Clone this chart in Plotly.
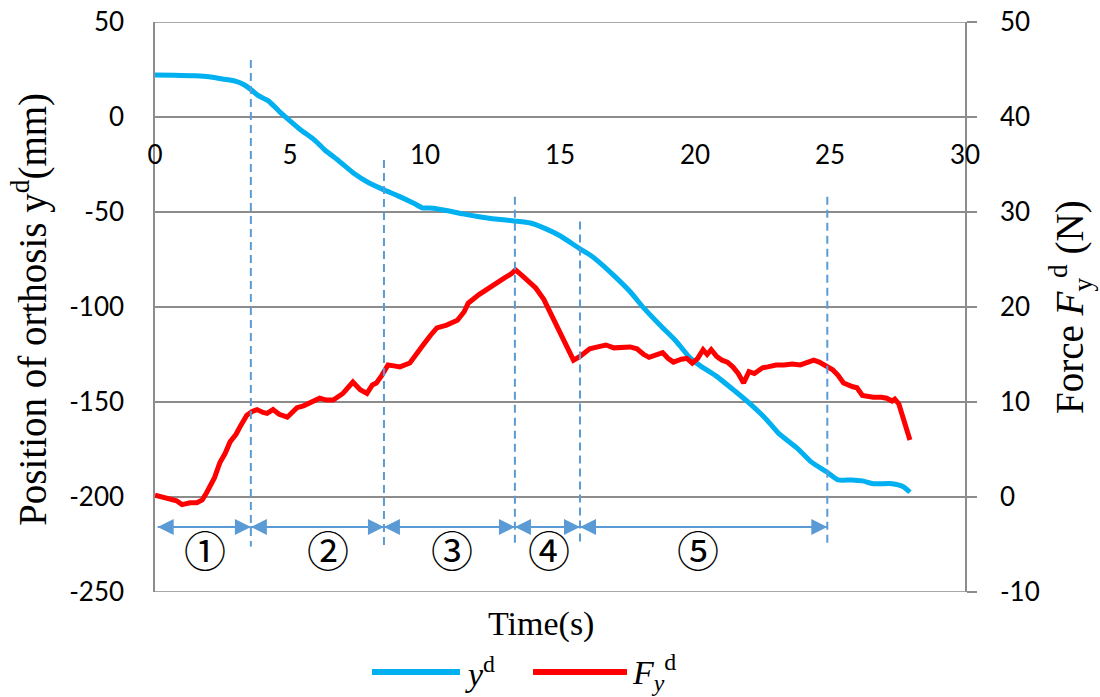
import plotly.graph_objects as go

# Orthosis position y^d (mm) over time
t_pos = [0.0, 0.7, 1.5, 2.0, 2.5, 3.0, 3.3, 3.55, 3.8, 4.2, 4.6, 5.0, 5.4, 5.9, 6.3,
         6.8, 7.4, 7.9, 8.5, 9.0, 9.6, 9.9, 10.3, 10.9, 11.4, 12.0, 12.5, 13.3, 13.9,
         14.5, 15.0, 15.7, 16.1, 16.5, 17.0, 17.6, 18.1, 18.7, 19.3, 19.8, 20.2, 20.8,
         21.5, 22.0, 22.6, 23.1, 23.8, 24.3, 24.9, 25.3, 25.8, 26.2, 26.6, 27.3, 27.7,
         27.96]
pos = [22.1, 22.0, 21.7, 21.2, 20.0, 18.8, 17.0, 14.5, 11.5, 8.5, 3.0, -2.0, -6.8,
       -12.0, -17.5, -23.0, -30.0, -34.5, -38.5, -41.5, -45.5, -47.8, -48.0, -49.5,
       -51.0, -52.5, -53.5, -54.7, -55.8, -59.0, -62.5, -69.0, -72.5, -77.0, -83.5,
       -92.0, -100.5, -109.5, -118.0, -126.5, -131.0, -136.5, -144.5, -150.5, -158.5,
       -166.5, -174.5, -181.5, -187.0, -191.0, -191.0, -191.5, -193.0, -193.0, -194.5,
       -197.5]

# Force F_y^d (N) over time
t_force = [0.0, 0.3, 0.56, 0.8, 1.0, 1.3, 1.55, 1.75, 1.9, 2.2, 2.4, 2.6, 2.78, 3.0,
           3.15, 3.4, 3.6, 3.78, 4.0, 4.15, 4.37, 4.6, 4.9, 5.1, 5.26, 5.5, 5.74, 6.1,
           6.35, 6.6, 6.96, 7.33, 7.6, 7.85, 8.05, 8.2, 8.4, 8.63, 8.85, 9.07, 9.44,
           9.7, 9.93, 10.2, 10.44, 10.8, 11.2, 11.45, 11.6, 12.0, 12.4, 12.7, 12.96,
           13.2, 13.35, 13.6, 13.85, 14.1, 14.4, 14.7, 15.0, 15.3, 15.5, 15.74, 16.1,
           16.4, 16.7, 17.0, 17.3, 17.6, 17.85, 18.1, 18.3, 18.6, 18.8, 19.0, 19.2,
           19.5, 19.7, 19.9, 20.1, 20.3, 20.45, 20.6, 20.8, 21.0, 21.2, 21.4, 21.6,
           21.8, 21.9, 22.0, 22.2, 22.5, 22.7, 23.0, 23.3, 23.6, 23.9, 24.2, 24.4,
           24.6, 24.9, 25.1, 25.3, 25.5, 25.85, 26.0, 26.2, 26.6, 26.9, 27.1, 27.3,
           27.4, 27.55, 27.65, 27.75, 27.85, 27.96]
force = [0.2, 0.0, -0.2, -0.4, -0.8, -0.6, -0.6, -0.3, 0.4, 2.0, 3.6, 4.6, 5.8, 6.6,
         7.4, 8.6, 9.0, 9.2, 8.9, 8.8, 9.2, 8.7, 8.4, 9.0, 9.4, 9.6, 9.9, 10.4, 10.2,
         10.2, 10.9, 12.1, 11.3, 10.9, 11.8, 12.0, 12.8, 13.9, 13.8, 13.7, 14.1, 15.0,
         16.0, 17.0, 17.8, 18.1, 18.6, 19.5, 20.4, 21.3, 22.1, 22.6, 23.1, 23.5, 23.9,
         23.3, 22.6, 22.0, 20.8, 19.0, 17.3, 15.5, 14.4, 14.8, 15.6, 15.8, 16.0, 15.7,
         15.8, 15.8, 15.6, 15.0, 14.7, 15.0, 15.2, 14.6, 14.2, 14.5, 14.6, 14.1, 14.6,
         15.5, 15.0, 15.5, 14.8, 14.4, 14.2, 13.7, 13.0, 12.0, 12.6, 13.2, 13.0, 13.6,
         13.7, 13.9, 13.9, 14.0, 13.9, 14.2, 14.4, 14.2, 13.7, 13.4, 12.8, 12.0, 11.6,
         11.5, 10.7, 10.5, 10.5, 10.4, 10.1, 10.3, 9.8, 8.8, 7.8, 7.2, 6.0]

# Phase boundaries (s), top of each dashed marker (mm), phase labels
phase_t = [3.55, 8.48, 13.33, 15.74, 24.9]
phase_top = [30, -22.6, -42, -55, -42]
phase_start = 0.1
phase_labels = ["①", "②", "③", "④", "⑤"]
phase_label_t = [1.85, 6.4, 11.0, 14.6, 20.1]
phase_arrow_y = -215.8
phase_label_y = -227
phase_line_bottom = -226

# Axis ticks
x_ticks = [0, 5, 10, 15, 20, 25, 30]
y_ticks = [-250, -200, -150, -100, -50, 0, 50]
y2_ticks = [-10, 0, 10, 20, 30, 40, 50]

BLUE = "#00B0F0"
RED = "#FF0000"
PHASE = "#5B9BD5"
GRID = "#8C8C8C"
TICK_FONT = dict(family="Lato", size=26, color="black")
SERIF = "Liberation Serif"

fig = go.Figure()
fig.add_trace(go.Scatter(x=t_pos, y=pos, mode="lines", name="y<sup>d</sup>",
                         line=dict(color=BLUE, width=5, shape="spline", smoothing=0.6)))
fig.add_trace(go.Scatter(x=t_force, y=force, mode="lines", name="F<sub>y</sub><sup>d</sup>",
                         yaxis="y2", line=dict(color=RED, width=5)))

# Double-headed phase arrows
starts = [phase_start] + phase_t[:-1]
seg_x, seg_y = [], []
for a, b in zip(starts, phase_t):
    seg_x += [a, b, None]
    seg_y += [phase_arrow_y, phase_arrow_y, None]
fig.add_trace(go.Scatter(x=seg_x, y=seg_y, mode="lines", hoverinfo="skip",
                         line=dict(color=PHASE, width=2), showlegend=False))
fig.add_trace(go.Scatter(x=starts + phase_t, y=[phase_arrow_y] * (2 * len(phase_t)),
                         mode="markers", hoverinfo="skip", showlegend=False,
                         marker=dict(symbol=["arrow-left"] * len(starts)
                                     + ["arrow-right"] * len(phase_t),
                                     size=16, color=PHASE, line=dict(width=0))))

shapes = []
annotations = []
for tb, top in zip(phase_t, phase_top):
    shapes.append(dict(type="line", xref="x", yref="y", x0=tb, x1=tb, y0=top,
                       y1=phase_line_bottom,
                       line=dict(color=PHASE, width=2, dash="8px,5px")))

for lab, lt in zip(phase_labels, phase_label_t):
    annotations.append(dict(x=lt, y=phase_label_y, xref="x", yref="y", text=lab,
                            showarrow=False,
                            font=dict(family="Noto Sans CJK JP", size=42, color="black")))

# Frame lines at the top and bottom of the plot area
for yv in (y_ticks[0], y_ticks[-1]):
    shapes.append(dict(type="line", xref="paper", yref="y", x0=0, x1=1, y0=yv, y1=yv,
                       line=dict(color=GRID, width=1.5), layer="below"))

# Axis titles
annotations.append(dict(xref="paper", yref="paper", x=-0.1543, y=0.495, textangle=-90,
                        xanchor="center", yanchor="middle",
                        text="Position of orthosis y<sup>d</sup>(mm)", showarrow=False,
                        font=dict(family=SERIF, size=39, color="black")))
annotations.append(dict(xref="paper", yref="paper", x=1.1296, y=0.50, textangle=-90,
                        xanchor="center", yanchor="middle",
                        text="Force <i>F</i><sub>y</sub><sup>d</sup> (N)", showarrow=False,
                        font=dict(family=SERIF, size=39, color="black")))
annotations.append(dict(xref="paper", yref="paper", x=0.4765, y=-0.056,
                        xanchor="center", yanchor="middle",
                        text="Time(s)", showarrow=False,
                        font=dict(family=SERIF, size=34, color="black")))

# Legend
leg_y = -0.1404
shapes.append(dict(type="line", xref="paper", yref="paper", x0=0.2679, x1=0.3765,
                   y0=leg_y, y1=leg_y, line=dict(color=BLUE, width=6)))
shapes.append(dict(type="line", xref="paper", yref="paper", x0=0.4667, x1=0.5827,
                   y0=leg_y, y1=leg_y, line=dict(color=RED, width=6)))
annotations.append(dict(xref="paper", yref="paper", x=0.380, y=leg_y, xanchor="left",
                        yanchor="middle", text="<i>y</i><sup>d</sup>", showarrow=False,
                        font=dict(family=SERIF, size=34, color="black")))
annotations.append(dict(xref="paper", yref="paper", x=0.5864, y=leg_y, xanchor="left",
                        yanchor="middle", text="<i>F</i><sub><i>y</i></sub><sup>d</sup>",
                        showarrow=False, font=dict(family=SERIF, size=34, color="black")))

fig.update_layout(
    width=1100, height=697,
    margin=dict(l=155, r=135, t=22, b=105),
    paper_bgcolor="white", plot_bgcolor="white",
    showlegend=False,
    shapes=shapes, annotations=annotations,
    xaxis=dict(range=[0, 30], tickvals=x_ticks, ticktext=[str(v) for v in x_ticks],
               anchor="free", position=0.8333, showgrid=False, showline=False,
               zeroline=False, ticks="", tickfont=TICK_FONT, ticklabelstandoff=20,
               automargin=False),
    yaxis=dict(range=[-250, 50], tickvals=y_ticks, ticktext=[str(v) for v in y_ticks],
               showgrid=True, gridcolor=GRID, gridwidth=1.5, zeroline=False,
               showline=True, linecolor=GRID, linewidth=1.5, ticks="",
               tickfont=TICK_FONT, ticklabelstandoff=24, automargin=False),
    yaxis2=dict(range=[-10, 50], tickvals=y2_ticks, ticktext=[str(v) for v in y2_ticks],
                overlaying="y", side="right", showgrid=False, zeroline=False,
                showline=True, linecolor=GRID, linewidth=1.5, ticks="outside",
                ticklen=10, tickcolor=GRID, tickwidth=1.5, tickfont=TICK_FONT,
                ticklabelstandoff=18, automargin=False),
)

fig.write_html("out.html")
